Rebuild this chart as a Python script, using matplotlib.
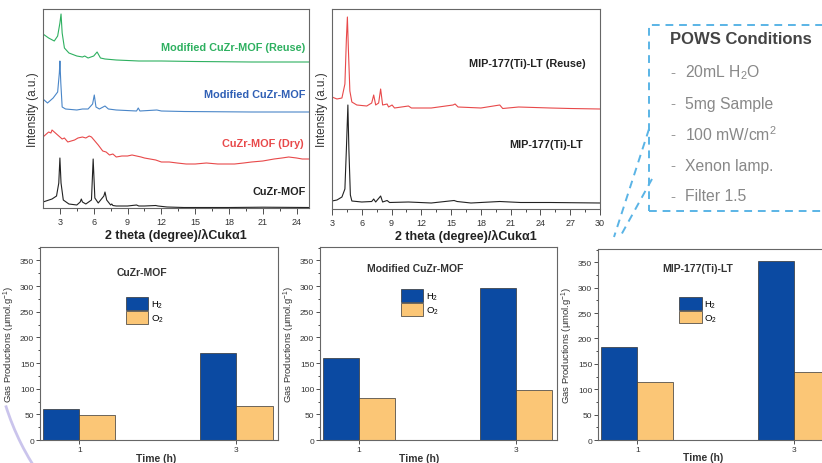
import matplotlib.pyplot as plt
from matplotlib.lines import Line2D
from matplotlib.patches import Rectangle, Arc

plt.rcParams['font.family'] = ['Liberation Sans', 'DejaVu Sans']
plt.rcParams['mathtext.fontset'] = 'custom'
plt.rcParams['mathtext.rm'] = 'Liberation Sans'
plt.rcParams['mathtext.it'] = 'Liberation Sans:italic'
plt.rcParams['mathtext.bf'] = 'Liberation Sans:bold'
plt.rcParams['mathtext.default'] = 'regular'

# XRD patterns, CuZr series (2 theta in degree, intensity in a.u.)
cuzr_x = [1.5, 2.3, 2.7, 2.9, 3.0, 3.1, 3.3, 3.8, 4.5, 4.8, 4.9, 5.0, 5.3, 5.8, 5.95,
          6.1, 6.4, 6.9, 7.0, 7.15, 7.5, 7.6, 7.7, 8.0, 9.0, 9.8, 10.0, 10.5, 11.5,
          11.7, 12.5, 14, 18, 21, 25.1]
cuzr_y = [6, 9, 12, 25, 50, 25, 8, 4, 3, 6, 9, 6, 4, 8, 49,
          10, 5, 12, 16, 8, 3, 4, 2.5, 2, 2, 3, 2, 2, 2.5,
          2, 1, 0.5, 0.5, 0.8, 0.5]

dry_x = [1.5, 1.7, 1.9, 2.0, 2.2, 2.3, 2.5, 2.7, 2.9, 3.2, 3.4, 3.7, 4.0, 4.3, 4.6,
         5.0, 5.3, 5.6, 5.8, 6.1, 6.4, 6.8, 7.1, 7.4, 7.7, 8.0, 8.5, 9.0, 9.4, 9.8,
         10.2, 10.5, 11.0, 11.5, 12.0, 12.7, 13.4, 14.2, 15.0, 16.0, 17.0, 18.0,
         18.5, 19.3, 20.0, 21.0, 22.0, 22.7, 23.3, 24.0, 24.5, 25.1]
dry_y = [71, 73, 75, 76, 75, 78, 76, 74, 72, 69, 70, 66, 67, 68, 70,
         71, 70, 72, 71, 67, 63, 57, 56, 53, 54, 51, 52, 52, 53, 52,
         51, 50, 49, 48, 46, 46, 45, 44, 44, 45, 44, 44,
         44, 45, 46, 47, 49, 50, 51, 50, 49, 49]

mod_x = [1.5, 1.9, 2.4, 2.8, 2.95, 3.0, 3.08, 3.2, 3.5, 4.5, 5.0, 5.5, 5.9, 6.05,
         6.2, 6.5, 7.0, 7.3, 8.0, 9.8, 9.95, 10.1, 11.6, 12.0, 14, 20, 25.1]
mod_y = [109, 105, 110, 116, 135, 147, 125, 101, 99, 98, 99, 99, 104, 113,
         101, 99, 102, 99, 98, 97, 100, 97, 98, 97, 96.5, 96, 96]

reuse_x = [1.5, 2.0, 2.5, 2.8, 3.0, 3.1, 3.2, 3.4, 3.8, 4.5, 5.0, 5.2, 5.5, 6.0,
           6.3, 6.6, 7.0, 8.0, 10, 12, 15, 20, 25.1]
reuse_y = [174, 170, 167, 172, 185, 194, 175, 160, 155, 152, 151, 152, 150, 152,
           156, 150, 149, 148, 147, 147, 146.5, 146, 146]

# XRD patterns, MIP-177(Ti)-LT
mip_x = [3.0, 3.5, 4.0, 4.3, 4.45, 4.6, 4.7, 4.85, 5.0, 6.0, 7.0, 7.2, 7.4, 7.9,
         8.1, 8.55, 8.8, 10.7, 13, 15.3, 15.6, 17, 19.9, 22, 25, 30]
mip_y = [8, 9, 12, 20, 60, 104, 60, 14, 8, 7, 7.5, 10, 7, 13,
         7, 8.5, 6.5, 7, 6, 8.5, 7.5, 6, 7.5, 6.5, 6.5, 6]

mipr_x = [3.0, 3.5, 4.0, 4.3, 4.45, 4.55, 4.65, 4.8, 5.0, 5.5, 6.5, 7.0, 7.2, 7.4,
          7.7, 7.9, 8.1, 8.55, 8.7, 9.05, 9.3, 10.7, 11, 13, 15.2, 15.4, 15.7, 18,
          19.9, 20.2, 21.8, 25, 27, 30]
mipr_y = [112, 110, 111, 125, 170, 192, 160, 118, 107, 104, 103, 106, 114, 104,
          106, 120, 104, 105, 102, 104, 101, 103, 101, 101, 104, 105, 102, 101,
          104, 100.5, 102, 101, 100.5, 100]

# gas production (umol/g)
times = [1, 3]
h2_cuzr = [61, 170]
o2_cuzr = [48, 66]
h2_mod = [160, 297]
o2_mod = [82, 98]
h2_mip = [184, 352]
o2_mip = [114, 133]

conditions = ['20mL H$_2$O', '5mg Sample', '100 mW/cm$^2$', 'Xenon lamp.', 'Filter 1.5']

W, H = 822, 464
fig = plt.figure(figsize=(8.22, 4.64), dpi=100)


def box(l, t, r, b):
    return [l / W, 1 - b / H, (r - l) / W, (b - t) / H]


def style_xrd(ax, xlim, ylim, ticks):
    ax.set_xlim(*xlim)
    ax.set_ylim(*ylim)
    ax.set_yticks([])
    ax.set_xticks(ticks)
    ax.set_xticks([t + 1.5 for t in ticks[:-1]], minor=True)
    ax.tick_params(axis='x', labelsize=6.5, length=4, width=0.6, colors='#333', pad=2.5)
    ax.tick_params(axis='x', which='minor', length=2.2, width=0.5)
    for s in ax.spines.values():
        s.set_color('#666')
        s.set_linewidth(0.8)
    ax.set_ylabel('Intensity (a.u.)', fontsize=8.5, color='#333', labelpad=3)
    ax.set_xlabel('2 theta (degree)/λCukα1', fontsize=9, fontweight='bold',
                  color='#222', labelpad=1.5)


# XRD panel 1
ax1 = fig.add_axes(box(43, 10, 309, 209))
ax1.plot(cuzr_x, cuzr_y, color='#222', lw=0.8)
ax1.plot(dry_x, dry_y, color='#e8494a', lw=0.8)
ax1.plot(mod_x, mod_y, color='#4a86c8', lw=0.8)
ax1.plot(reuse_x, reuse_y, color='#2eb060', lw=0.8)
style_xrd(ax1, (1.5, 25.1), (0, 199), [3, 6, 9, 12, 15, 18, 21, 24])
lbl = dict(ha='right', va='center', fontsize=7.8, fontweight='bold')
ax1.text(24.8, 161, 'Modified CuZr-MOF (Reuse)', color='#2eb060', **lbl)
ax1.text(24.8, 114, 'Modified CuZr-MOF', color='#2f5fb5', **lbl)
ax1.text(24.6, 65, 'CuZr-MOF (Dry)', color='#e8494a', **lbl)
ax1.text(24.8, 17, 'CuZr-MOF', color='#222', **lbl)

# XRD panel 2
ax2 = fig.add_axes(box(332, 10, 600, 210))
ax2.plot(mip_x, mip_y, color='#222', lw=0.8)
ax2.plot(mipr_x, mipr_y, color='#e8494a', lw=0.8)
style_xrd(ax2, (3, 30), (0, 200), [3, 6, 9, 12, 15, 18, 21, 24, 27, 30])
ax2.text(28.6, 146, 'MIP-177(Ti)-LT (Reuse)', ha='right', va='center',
         fontsize=7.8, fontweight='bold', color='#222')
ax2.text(28.3, 65, 'MIP-177(Ti)-LT', ha='right', va='center',
         fontsize=7.8, fontweight='bold', color='#222')


def bar_panel(rect, h2, o2, title, tpos, lpos, xlab_x):
    ax = fig.add_axes(rect)
    w = 0.46
    ax.bar([t - w / 2 for t in times], h2, w, color='#0b4aa2', edgecolor='#333',
           lw=0.5, label='H$_2$')
    ax.bar([t + w / 2 for t in times], o2, w, color='#fbc676', edgecolor='#333',
           lw=0.5, label='O$_2$')
    ax.set_xlim(0.5, 3.53)
    ax.set_ylim(0, 376)
    ax.set_xticks(times)
    ax.set_yticks(range(0, 351, 50))
    ax.set_yticks(range(25, 376, 50), minor=True)
    ax.tick_params(labelsize=6, length=3, width=0.6, colors='#333', pad=1.2)
    ax.tick_params(which='minor', length=1.8, width=0.5)
    for s in ax.spines.values():
        s.set_color('#666')
        s.set_linewidth(0.8)
    ax.set_ylabel('Gas Productions (μmol.g$^{-1}$)', fontsize=6.8, color='#333',
                  labelpad=2)
    ax.set_xlabel('Time (h)', fontsize=7.5, fontweight='bold', color='#333')
    ax.xaxis.set_label_coords(xlab_x, -0.065)
    ax.text(tpos[0], tpos[1], title, transform=ax.transAxes, ha='center', va='center',
            fontsize=7.5, fontweight='bold', color='#333')
    ax.legend(loc='upper left', bbox_to_anchor=lpos, frameon=False, fontsize=6.8,
              handlelength=2.4, handleheight=1.7, handletextpad=0.3,
              labelspacing=0.1, borderpad=0, borderaxespad=0)
    return ax


bar_panel(box(40, 248, 278, 441), h2_cuzr, o2_cuzr, 'CuZr-MOF', (0.43, 0.87),
          (0.36, 0.74), 0.49)
bar_panel(box(320, 248, 557, 441), h2_mod, o2_mod, 'Modified CuZr-MOF', (0.40, 0.89),
          (0.34, 0.78), 0.42)
bar_panel(box(598, 250, 836, 441), h2_mip, o2_mip, 'MIP-177(Ti)-LT', (0.42, 0.90),
          (0.34, 0.75), 0.44)

# conditions box
blue = '#5ab4e6'
fig.add_artist(Rectangle((649 / W, 1 - 212 / H), 200 / W, 186 / H, fill=False,
                         ec=blue, lw=1.4, ls=(0, (4, 3)), transform=fig.transFigure,
                         clip_on=False))
for (x0, y0, x1, y1) in [(649, 130, 614, 238), (652, 180, 620, 238)]:
    fig.add_artist(Line2D([x0 / W, x1 / W], [1 - y0 / H, 1 - y1 / H], color=blue,
                          lw=1.4, ls=(0, (4, 3)), transform=fig.transFigure))
fig.text(670 / W, 1 - 40 / H, 'POWS Conditions', fontsize=12, fontweight='bold',
         color='#444', va='center')
for i, c in enumerate(conditions):
    y = 1 - (73 + 31 * i) / H
    fig.text(670 / W, y, '-', fontsize=11, color='#999', va='center')
    fig.text(685 / W, y, c, fontsize=11.3, color='#888', va='center')

# decorative arc bottom-left
fig.add_artist(Arc((250 / W, 1 - 330 / H), 512 / W, 512 / H, theta1=209, theta2=232,
                   color='#a89ee0', lw=2, alpha=0.6, transform=fig.transFigure))

fig.savefig('out.png', dpi=100)
